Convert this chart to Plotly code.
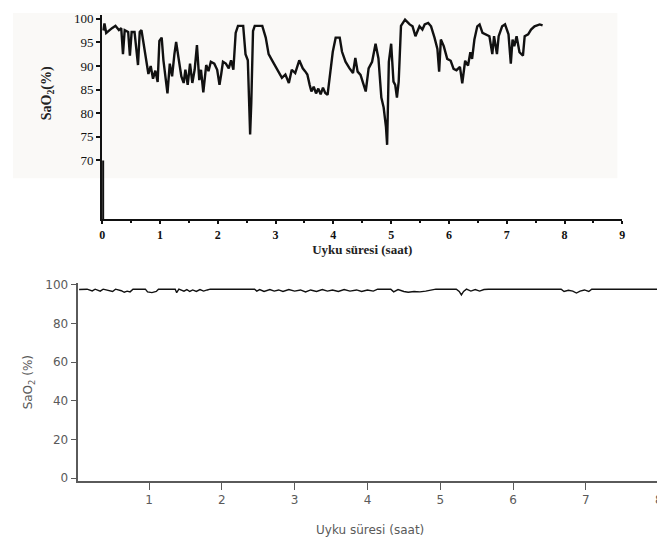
import plotly.graph_objects as go

# ---- Top chart (scanned figure): SaO2 over sleep time ----
top_hours = [0.02, 0.04, 0.07, 0.12, 0.17, 0.23, 0.29, 0.33, 0.36, 0.39, 0.45, 0.48, 0.51, 0.56, 0.59,
             0.62, 0.65, 0.68, 0.71, 0.75, 0.80, 0.84, 0.88, 0.92, 0.96, 0.99, 1.03, 1.06, 1.10, 1.13,
             1.17, 1.21, 1.25, 1.28, 1.32, 1.37, 1.41, 1.44, 1.48, 1.52, 1.56, 1.60, 1.64, 1.68, 1.71,
             1.75, 1.80, 1.84, 1.88, 1.94, 1.99, 2.03, 2.06, 2.09, 2.14, 2.19, 2.23, 2.27, 2.31, 2.35,
             2.44, 2.48, 2.52, 2.54, 2.56, 2.58, 2.61, 2.64, 2.77, 2.83, 2.88, 2.94, 3.00, 3.05, 3.11,
             3.17, 3.23, 3.28, 3.34, 3.41, 3.47, 3.51, 3.55, 3.59, 3.62, 3.66, 3.70, 3.74, 3.78, 3.82,
             3.86, 3.90, 3.94, 3.99, 4.04, 4.11, 4.15, 4.21, 4.28, 4.34, 4.38, 4.42, 4.47, 4.51, 4.56,
             4.61, 4.67, 4.73, 4.78, 4.83, 4.87, 4.91, 4.93, 4.96, 5.00, 5.04, 5.07, 5.10, 5.13, 5.17,
             5.24, 5.32, 5.37, 5.42, 5.49, 5.54, 5.58, 5.64, 5.69, 5.75, 5.80, 5.83, 5.86, 5.91, 5.97,
             6.03, 6.08, 6.13, 6.19, 6.23, 6.28, 6.33, 6.37, 6.40, 6.44, 6.49, 6.53, 6.58, 6.64, 6.70,
             6.75, 6.78, 6.83, 6.86, 6.92, 6.97, 7.03, 7.07, 7.10, 7.13, 7.17, 7.22, 7.28, 7.31, 7.37,
             7.42, 7.48, 7.57, 7.62]
top_sao2 = [97.5, 99.0, 97.0, 97.6, 98.0, 98.5, 97.6, 98.0, 92.5, 97.6, 97.2, 92.2, 97.2, 97.2, 93.9,
            90.2, 97.2, 97.6, 95.3, 92.5, 88.3, 90.0, 87.3, 89.0, 86.6, 95.3, 96.0, 91.2, 87.0, 84.2,
            90.5, 87.8, 92.5, 95.1, 91.8, 87.8, 86.4, 89.2, 86.0, 90.5, 86.4, 89.2, 94.4, 87.0, 89.2,
            84.4, 90.2, 88.9, 90.9, 90.5, 89.2, 86.0, 88.3, 90.9, 90.5, 89.5, 91.2, 89.2, 97.0, 98.5,
            98.5, 92.5, 91.2, 83.6, 75.5, 82.2, 97.4, 98.5, 98.5, 96.0, 92.5, 91.2, 89.9, 88.9, 87.5,
            88.2, 86.4, 89.2, 88.5, 91.2, 89.5, 88.9, 88.2, 86.0, 84.6, 85.6, 84.2, 85.2, 84.0, 85.4,
            84.3, 83.9, 88.5, 93.0, 96.0, 96.0, 93.0, 90.9, 89.5, 88.5, 91.7, 88.8, 88.1, 86.7, 84.6,
            89.5, 90.9, 94.7, 91.6, 83.3, 81.2, 77.1, 73.3, 90.9, 94.7, 86.7, 86.0, 83.3, 86.7, 98.5,
            99.8, 98.8, 98.4, 96.3, 98.4, 97.7, 98.8, 99.1, 98.4, 96.0, 93.6, 88.8, 95.6, 94.2, 91.5,
            91.1, 89.4, 89.1, 89.8, 86.3, 91.1, 90.1, 92.9, 91.5, 95.6, 98.4, 98.8, 97.0, 96.7, 96.3,
            92.5, 96.3, 92.5, 96.3, 98.4, 98.8, 96.7, 90.5, 95.6, 94.2, 96.3, 92.9, 92.2, 96.3, 96.7,
            97.7, 98.4, 98.8, 98.6]
top_xticks = [0, 1, 2, 3, 4, 5, 6, 7, 8, 9]
top_yticks = [70, 75, 80, 85, 90, 95, 100]

# ---- Bottom chart: SaO2 over sleep time ----
bottom_hours = [0.04, 0.15, 0.22, 0.26, 0.33, 0.37, 0.50, 0.54, 0.62, 0.66, 0.70, 0.74, 0.78, 0.95,
                0.98, 1.04, 1.10, 1.13, 1.36, 1.38, 1.41, 1.48, 1.52, 1.56, 1.60, 1.65, 1.70, 1.75,
                1.80, 1.84, 2.45, 2.48, 2.52, 2.58, 2.66, 2.72, 2.78, 2.84, 2.92, 3.00, 3.08, 3.15,
                3.22, 3.30, 3.38, 3.45, 3.52, 3.60, 3.68, 3.76, 3.85, 3.92, 4.00, 4.08, 4.14, 4.32,
                4.36, 4.42, 4.50, 4.56, 4.64, 4.72, 4.80, 4.88, 4.94, 5.22, 5.26, 5.29, 5.32, 5.36,
                5.42, 5.48, 5.54, 5.60, 5.66, 6.66, 6.70, 6.76, 6.82, 6.87, 6.92, 6.98, 7.04, 7.08,
                8.05]
bottom_sao2 = [97.6, 97.8, 96.9, 97.8, 96.8, 97.8, 96.6, 97.8, 97.0, 96.2, 96.8, 96.4, 97.8, 97.8,
               96.4, 96.0, 96.6, 97.8, 97.8, 96.0, 97.8, 96.8, 97.6, 96.6, 97.4, 96.6, 97.6, 96.8,
               97.4, 97.8, 97.8, 96.8, 97.6, 96.6, 97.6, 96.8, 97.4, 96.6, 97.6, 96.8, 97.4, 96.4,
               97.4, 96.6, 97.6, 96.8, 97.4, 96.6, 97.6, 96.8, 97.4, 96.6, 97.4, 96.8, 97.8, 97.8,
               96.4, 97.6, 96.6, 96.2, 96.6, 96.4, 96.8, 97.4, 97.8, 97.8, 96.6, 94.8, 96.6, 97.8,
               96.8, 97.6, 96.8, 97.6, 97.8, 97.8, 96.6, 97.2, 96.8, 95.8, 96.8, 97.4, 96.6, 97.8,
               97.8]
bottom_xticks = [1, 2, 3, 4, 5, 6, 7, 8]
bottom_yticks = [0, 20, 40, 60, 80, 100]

# The page body has an 8px margin, so the figure is drawn 8px smaller and
# all reference-pixel positions are shifted by that offset.
OFF = 8
W, H = 665 - OFF, 544 - OFF
serif = "Liberation Serif"
sans = "DejaVu Sans"
grey = "#5a5a5a"

fig = go.Figure()
fig.add_trace(go.Scatter(x=top_hours, y=top_sao2, mode="lines", xaxis="x", yaxis="y",
                         line=dict(color="#111111", width=2.4), showlegend=False, hoverinfo="skip"))
fig.add_trace(go.Scatter(x=bottom_hours, y=bottom_sao2, mode="lines", xaxis="x2", yaxis="y2",
                         line=dict(color="#111111", width=1.4), showlegend=False, hoverinfo="skip"))


def px_x(p):
    return (p - OFF) / W


def px_y(p):
    return (H - (p - OFF)) / H


fig.update_layout(
    width=W, height=H,
    margin=dict(l=0, r=0, t=0, b=0),
    paper_bgcolor="white", plot_bgcolor="rgba(0,0,0,0)",
    xaxis=dict(domain=[px_x(100), px_x(625)], range=[0, 9], anchor="y",
               tickvals=top_xticks, ticks="outside", ticklen=3, tickwidth=2, tickcolor="#111",
               minor=dict(dtick=0.5, ticks="outside", ticklen=2, tickwidth=1.5, tickcolor="#111"),
               showline=True, linecolor="#111", linewidth=2, showgrid=False, zeroline=False,
               tickfont=dict(family=serif, size=12, color="#111", weight="bold"),
               title=dict(text="Uyku süresi (saat)", standoff=0,
                          font=dict(family=serif, size=13, color="#222", weight="bold"))),
    yaxis=dict(domain=[px_y(218), px_y(10)], range=[57.5, 100.8], anchor="x",
               tickvals=top_yticks, ticks="outside", ticklen=4, tickwidth=1.5, tickcolor="#111",
               showline=True, linecolor="#111", linewidth=2, showgrid=False, zeroline=False,
               tickfont=dict(family=serif, size=13, color="#111")),
    xaxis2=dict(domain=[px_x(76), 1.0], range=[0.03, 8.045], anchor="y2",
                tickvals=bottom_xticks, ticks="outside", ticklen=7, tickwidth=1.2, tickcolor=grey,
                showline=True, linecolor=grey, linewidth=1.6, showgrid=False, zeroline=False,
                tickfont=dict(family=sans, size=12, color=grey),
                title=dict(text="Uyku süresi (saat)", standoff=19,
                           font=dict(family=sans, size=12, color=grey))),
    yaxis2=dict(domain=[px_y(484), px_y(283)], range=[-1.5, 100.8], anchor="x2",
                tickvals=bottom_yticks, ticks="outside", ticklen=6, tickwidth=1.2, tickcolor=grey,
                showline=True, linecolor=grey, linewidth=1.6, showgrid=False, zeroline=False,
                tickfont=dict(family=sans, size=12, color=grey),
                title=dict(text="SaO<sub>2</sub> (%)", standoff=10,
                           font=dict(family=sans, size=12, color=grey))),
    shapes=[
        # faint scan background behind the upper figure
        dict(type="rect", xref="paper", yref="paper", x0=px_x(10), x1=px_x(620),
             y0=px_y(176), y1=1.0, fillcolor="#faf9f7", line=dict(width=0), layer="below"),
        # heavy axis segment below the 70 mark (broken-axis style of the scan)
        dict(type="line", xref="x", yref="y domain", x0=0, x1=0, y0=0, y1=(70 - 57.5) / (100.8 - 57.5),
             line=dict(color="#111", width=4)),
    ],
    annotations=[
        dict(text="<b>SaO<sub>2</sub>(%)</b>", xref="paper", yref="paper",
             x=px_x(45), y=px_y(90), textangle=-90, showarrow=False,
             font=dict(family=serif, size=14, color="#222"), xanchor="center", yanchor="middle"),
    ],
)

fig.write_html("out.html")
